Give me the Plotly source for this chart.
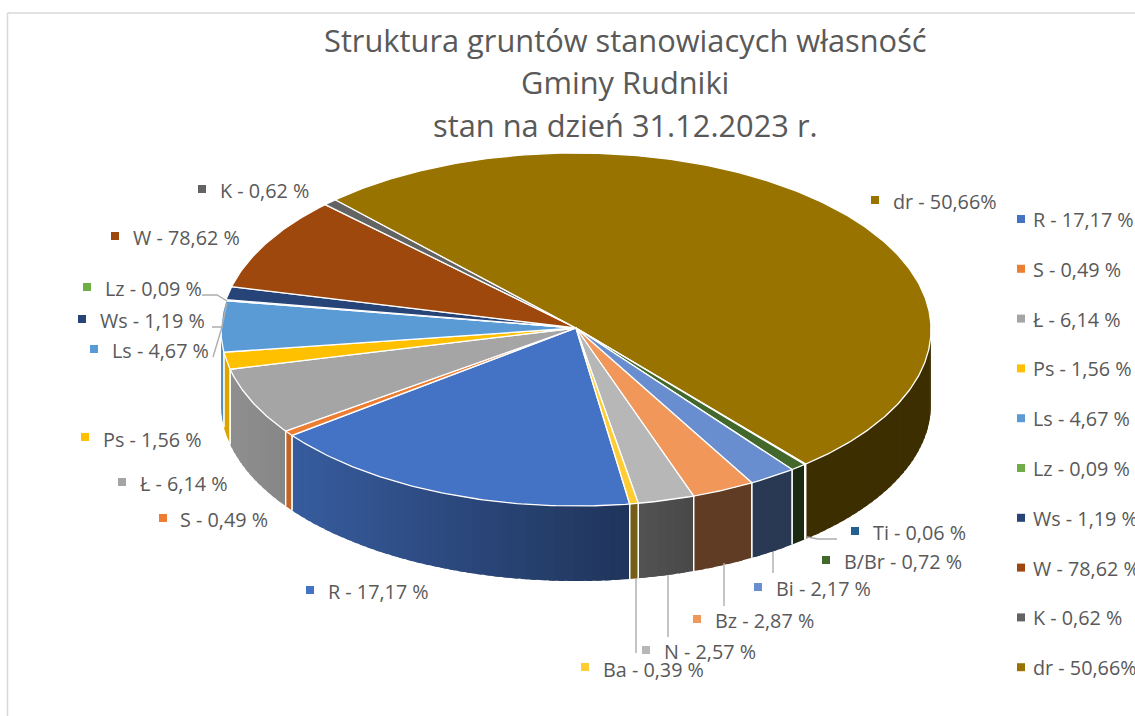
import math
import plotly.graph_objects as go

# ---- data ----
names = ["R", "S", "Ł", "Ps", "Ls", "Lz", "Ws", "W", "K", "dr", "Ti", "B/Br", "Bi", "Bz", "N", "Ba"]
values = [17.17, 0.49, 6.14, 1.56, 4.67, 0.09, 1.19, 8.62, 0.62, 50.66, 0.06, 0.72, 2.17, 2.87, 2.57, 0.39]
label_texts = ["R - 17,17 %", "S - 0,49 %", "Ł - 6,14 %", "Ps - 1,56 %", "Ls - 4,67 %", "Lz - 0,09 %",
               "Ws - 1,19 %", "W - 78,62 %", "K - 0,62 %", "dr - 50,66%", "Ti - 0,06 %", "B/Br - 0,72 %",
               "Bi - 2,17 %", "Bz - 2,87 %", "N - 2,57 %", "Ba - 0,39 %"]
colors = ["#4472C4", "#ED7D31", "#A5A5A5", "#FFC000", "#5B9BD5", "#70AD47", "#264478", "#9E480E",
          "#636363", "#997300", "#255E91", "#43682B", "#698ED0", "#F1975A", "#B7B7B7", "#FFCD33"]
title_lines = ["Struktura gruntów stanowiacych własność", "Gminy Rudniki", "stan na dzień 31.12.2023 r."]
legend_names = names[:10]

# ---- layout constants (pixels) ----
W_PX, H_PX = 1135, 716
CX, CY, RX, RY, DEPTH = 576, 329.5, 355, 176.5, 75
START_DEG = 171.3
FONT = "Open Sans"
TXT = "#595959"
LABEL_SIZE = 19.8
TITLE_Y = [40, 82, 125]
# label placement: name -> (marker x, marker y, text x, text y)
label_pos = {
    "K": (202, 189, 218, 190), "W": (115, 236, 131, 237), "dr": (875, 200, 891, 201),
    "Lz": (87, 287, 103, 288), "Ws": (82, 319, 98, 320), "Ls": (94, 349, 110, 350),
    "Ps": (85, 437, 101, 439), "Ł": (122, 482, 138, 483), "S": (163, 518, 178, 519),
    "R": (310, 590, 326, 591), "Ba": (585, 667, 601, 669), "N": (646, 650, 662, 651),
    "Bz": (697, 619, 713, 620), "Bi": (758, 587, 774, 588), "B/Br": (826, 560, 842, 561),
    "Ti": (855, 531, 871, 532),
}
leaders = [
    [(202, 295), (217, 295), (227, 301)],
    [(212, 327), (222, 327), (227, 303)],
    [(213, 357), (222, 327)],
    [(807, 537), (818, 539), (837, 539)],
    [(773, 552), (773, 573)],
    [(724, 563), (724, 606)],
    [(668, 575), (668, 637)],
    [(636, 578), (636, 653)],
]


def pt(deg, dy=0.0):
    a = math.radians(deg)
    return CX + RX * math.sin(a), CY - RY * math.cos(a) + dy


def shade(hex_col, f):
    r, g, b = (int(hex_col[i:i + 2], 16) for i in (1, 3, 5))
    return f"rgb({r * f:.0f},{g * f:.0f},{b * f:.0f})"


def wall_factor(x):
    return max(0.40, min(0.86, 0.85 - (x - 250) * 0.38 / 370))


def poly(xs, ys, fill, line_color, line_width):
    return go.Scatter(x=xs, y=ys, mode="lines", fill="toself", fillcolor=fill,
                      line=dict(color=line_color, width=line_width),
                      hoverinfo="skip", showlegend=False)


fig = go.Figure()

# slice angular extents from the values
total = sum(values)
edges = [START_DEG]
for v in values:
    edges.append(edges[-1] + v / total * 360)

# side walls: only the front half of the ellipse (90..270 deg, modulo 360)
seams = []
for i, c in enumerate(colors):
    a0, a1 = edges[i], edges[i + 1]
    clipped = []
    for k in (-360, 0, 360):
        lo, hi = max(a0, 90 + k), min(a1, 270 + k)
        if hi > lo:
            clipped.append((lo, hi))
    for lo, hi in clipped:
        n = max(1, int((hi - lo) / 1.5))
        for s in range(n):
            b0 = lo + (hi - lo) * s / n
            # each strip overlaps the next one so that no hairline seams show
            b1 = min(hi, lo + (hi - lo) * (s + 1) / n + 1.0)
            steps = [b0 + (b1 - b0) * t / 4 for t in range(5)]
            top = [pt(d) for d in steps]
            bot = [pt(d, DEPTH) for d in reversed(steps)]
            xs = [p[0] for p in top + bot] + [top[0][0]]
            ys = [p[1] for p in top + bot] + [top[0][1]]
            col = shade(c, wall_factor(pt((b0 + lo + (hi - lo) * (s + 1) / n) / 2)[0]))
            fig.add_trace(poly(xs, ys, col, col, 0))
        for d in (lo, hi):
            if 90 < (d % 360) < 270:
                seams.append(d)

for d in seams:
    x0, y0 = pt(d)
    x1, y1 = pt(d, DEPTH)
    fig.add_trace(go.Scatter(x=[x0, x1], y=[y0, y1], mode="lines",
                             line=dict(color="white", width=1.2),
                             hoverinfo="skip", showlegend=False))

# top face
for i, c in enumerate(colors):
    a0, a1 = edges[i], edges[i + 1]
    n = max(2, int((a1 - a0) / 0.7))
    arc = [pt(a0 + (a1 - a0) * t / n) for t in range(n + 1)]
    xs = [CX] + [p[0] for p in arc] + [CX]
    ys = [CY - 1.5] + [p[1] for p in arc] + [CY - 1.5]
    fig.add_trace(poly(xs, ys, c, "white", 1.3))

# leader lines
for seg in leaders:
    fig.add_trace(go.Scatter(x=[p[0] for p in seg], y=[p[1] for p in seg], mode="lines",
                             line=dict(color="#ADADAD", width=1.4),
                             hoverinfo="skip", showlegend=False))

annotations = []


def add_label(text, col, mx, my, tx, ty):
    fig.add_trace(go.Scatter(x=[mx], y=[my], mode="markers",
                             marker=dict(symbol="square", size=8, color=col),
                             hoverinfo="skip", showlegend=False))
    annotations.append(dict(x=tx, y=ty, xref="x", yref="y", text=text, showarrow=False,
                            xanchor="left", yanchor="middle",
                            font=dict(family=FONT, size=LABEL_SIZE, color=TXT)))


# data labels next to the pie
for name, text, col in zip(names, label_texts, colors):
    mx, my, tx, ty = label_pos[name]
    add_label(text, col, mx, my, tx, ty)

# legend column at the right edge
for i, name in enumerate(legend_names):
    idx = names.index(name)
    y = 219 + i * 49.8
    add_label(label_texts[idx], colors[idx], 1021, y, 1031, y + 0.5)

# title
for line, ty in zip(title_lines, TITLE_Y):
    annotations.append(dict(x=625, y=ty, xref="x", yref="y", showarrow=False,
                            xanchor="center", yanchor="middle", text=line,
                            font=dict(family=FONT, size=30.8, color=TXT)))

# chart frame
shapes = [
    dict(type="line", x0=7.5, x1=7.5, y0=13, y1=716, xref="x", yref="y", line=dict(color="#D9D9D9", width=1.5)),
    dict(type="line", x0=7.5, x1=1135, y0=13, y1=13, xref="x", yref="y", line=dict(color="#D9D9D9", width=1.5)),
]

fig.update_layout(
    width=W_PX, height=H_PX, margin=dict(l=0, r=0, t=0, b=0),
    paper_bgcolor="white", plot_bgcolor="white", showlegend=False,
    xaxis=dict(range=[0, W_PX], visible=False, fixedrange=True),
    yaxis=dict(range=[H_PX, 0], visible=False, fixedrange=True),
    annotations=annotations, shapes=shapes,
)

fig.write_html("out.html", config={"displayModeBar": False},
               post_script="document.body.style.margin='0';document.body.style.overflow='hidden';")
